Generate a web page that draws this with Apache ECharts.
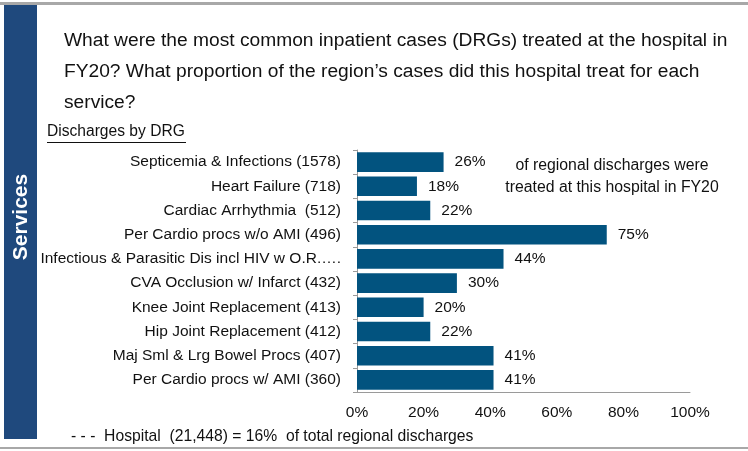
<!DOCTYPE html>
<html lang="en">
	<head>
		<meta charset="UTF-8">
		<title>DRG chart</title>
		<style>
			html, body { margin: 0; padding: 0; background: #fff; }
		</style>
	</head>
	<body>
		<div id="chart" style="width:748px; height:451px"></div>
		<script src="https://cdn.jsdelivr.net/npm/echarts@6/dist/echarts.min.js"></script>
		<script>
			// categories, top to bottom
			var categories = [
				'Septicemia & Infections (1578)',
				'Heart Failure (718)',
				'Cardiac Arrhythmia  (512)',
				'Per Cardio procs w/o AMI (496)',
				'Infectious & Parasitic Dis incl HIV w O.R.\u2026.',
				'CVA Occlusion w/ Infarct (432)',
				'Knee Joint Replacement (413)',
				'Hip Joint Replacement (412)',
				'Maj Sml & Lrg Bowel Procs (407)',
				'Per Cardio procs w/ AMI (360)'
			];
			// share of regional discharges treated here (%)
			var shares = [26, 18, 22, 75, 44, 30, 20, 22, 41, 41];
			var tickValues = [0, 20, 40, 60, 80, 100];

			var font = 'Liberation Sans, Arial, sans-serif';
			var chart = echarts.init(document.getElementById('chart'));

			var option = {
				animation: false,
				textStyle: { fontFamily: font },
				grid: { left: 357, right: 58, top: 150, bottom: 59 },
				xAxis: {
					type: 'value',
					min: 0,
					max: 100,
					interval: 20,
					axisLine: { show: true, lineStyle: { color: '#9a9a9a', width: 1 } },
					axisTick: { show: false },
					splitLine: { show: false },
					axisLabel: {
						color: '#111',
						fontSize: 15.5,
						margin: 13,
						formatter: function (v) { return tickValues.indexOf(v) >= 0 ? v + '%' : ''; }
					}
				},
				yAxis: {
					type: 'category',
					inverse: true,
					data: categories,
					axisLine: { lineStyle: { color: '#9a9a9a', width: 1 } },
					axisTick: { show: true, length: 4, lineStyle: { color: '#9a9a9a' } },
					axisLabel: { color: '#111', fontSize: 15.5, margin: 16 }
				},
				series: [{
					type: 'bar',
					data: shares,
					barCategoryGap: '19%',
					itemStyle: { color: '#02537f' },
					label: {
						show: true,
						position: 'right',
						distance: 11,
						color: '#111',
						fontSize: 15.5,
						formatter: '{c}%'
					}
				}],
				graphic: [
					// top gray rule
					{ type: 'rect', shape: { x: 0, y: 2, width: 748, height: 3 }, style: { fill: '#a8a8a8' } },
					// bottom gray rule
					{ type: 'rect', shape: { x: 0, y: 447, width: 748, height: 2 }, style: { fill: '#a8a8a8' } },
					// side band
					{ type: 'rect', shape: { x: 4, y: 5, width: 33, height: 434 }, style: { fill: '#1f497d' } },
					{
						type: 'text', x: 21, y: 217, rotation: Math.PI / 2,
						style: {
							text: 'Services', fill: '#fff', font: 'bold 21px ' + font,
							textAlign: 'center', textVerticalAlign: 'middle'
						}
					},
					{
						type: 'text', x: 64, y: 25,
						style: {
							text: 'What were the most common inpatient cases (DRGs) treated at the hospital in\nFY20? What proportion of the region\u2019s cases did this hospital treat for each\nservice?',
							fill: '#111', font: '19.2px ' + font, lineHeight: 31
						}
					},
					{
						type: 'text', x: 47, y: 124,
						style: { text: 'Discharges by DRG', fill: '#111', font: '15.6px ' + font }
					},
					{ type: 'rect', shape: { x: 47, y: 142, width: 139, height: 1 }, style: { fill: '#111' } },
					{
						type: 'text', x: 612, y: 155,
						style: {
							text: 'of regional discharges were\ntreated at this hospital in FY20',
							fill: '#111', font: '15.8px ' + font, lineHeight: 22, textAlign: 'center'
						}
					},
					{
						type: 'text', x: 71, y: 429,
						style: {
							text: '- - -  Hospital  (21,448) = 16%  of total regional discharges',
							fill: '#111', font: '15.7px ' + font
						}
					}
				]
			};
			chart.setOption(option);
		</script>
	</body>
</html>
